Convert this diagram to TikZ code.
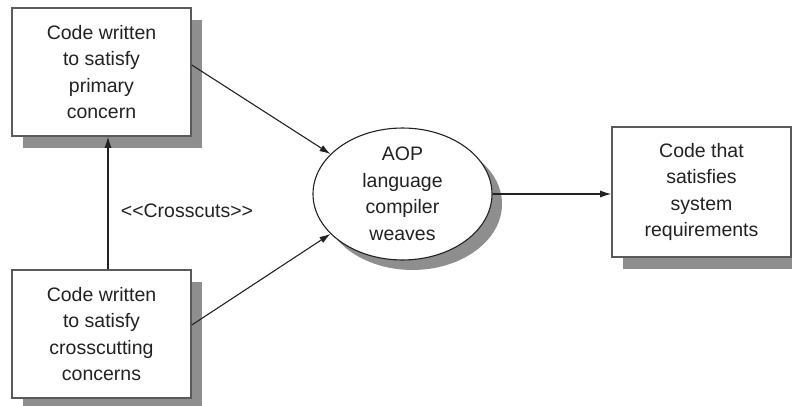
\documentclass[tikz,border=0pt]{standalone}
\usepackage{fontspec}
\setmainfont{Liberation Sans}
\usetikzlibrary{shapes.geometric,shadows,arrows.meta}
\definecolor{shadowgray}{HTML}{8E8E8E}
\definecolor{boxline}{HTML}{5A5A5A}
\definecolor{inkc}{HTML}{222222}
\tikzset{
  txt/.style={font=\fontsize{19.5}{26.5}\selectfont, text=inkc, align=center},
  shbox/.style={txt, rectangle, draw=boxline, line width=1.6pt, fill=white, inner sep=0pt,
    drop shadow={shadow xshift=11pt, shadow yshift=-12pt, fill=shadowgray, opacity=1}},
  shell/.style={txt, ellipse, draw=inkc, line width=1.1pt, fill=white, inner sep=0pt,
    minimum width=179pt, minimum height=118pt,
    drop shadow={shadow xshift=10pt, shadow yshift=-10pt, fill=shadowgray, opacity=1}},
  conn/.style={draw=inkc, line width=1.1pt, -{Latex[length=11pt,width=7pt]}}
}
\begin{document}
\begin{tikzpicture}[x=1pt,y=-1pt]
\useasboundingbox (0,0) rectangle (792,406);
\node[shbox, minimum width=179pt, minimum height=128pt] (tl) at (101.5,72)
  {Code written\\to satisfy\\primary\\concern};
\node[shbox, minimum width=179pt, minimum height=128pt] (bl) at (101.5,334)
  {Code written\\to satisfy\\crosscutting\\concerns};
\node[shell] (e) at (402.5,194) {AOP\\language\\compiler\\weaves};
\node[shbox, minimum width=179pt, minimum height=130pt] (r) at (701.5,192)
  {Code that\\satisfies\\system\\requirements};
\node[txt] (lbl) at (187,211) {<{}<Crosscuts>{}>};
\draw[conn] ([yshift=7pt]tl.east) -- (e.151);
\draw[conn] ([yshift=9pt]bl.east) -- (e.209);
\draw[conn] ([xshift=6.5pt]bl.north) -- ([xshift=6.5pt]tl.south);
\draw[conn] (e.east) -- (r.west |- e.east);
\end{tikzpicture}
\end{document}
